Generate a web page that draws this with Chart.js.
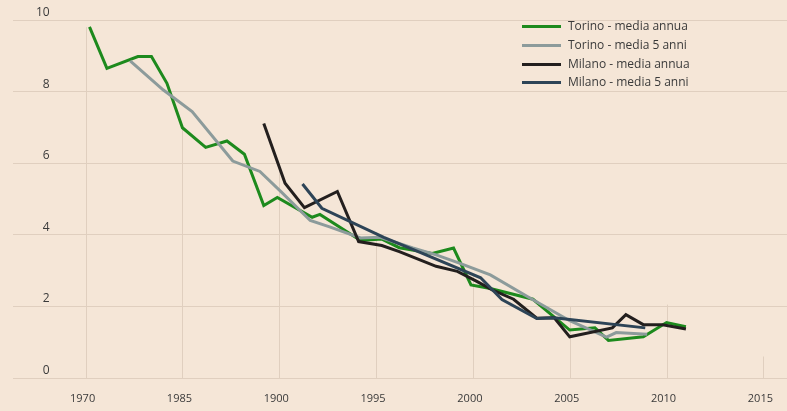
<!DOCTYPE html>
<html><head><meta charset="utf-8">
<script src="https://cdn.jsdelivr.net/npm/chart.js@4.4.1/dist/chart.umd.min.js"></script>
<style>
html,body{margin:0;padding:0;background:#f5e6d7;}
#wrap{width:787px;height:411px;position:relative;background:#f5e6d7;}
canvas{display:block;}
</style></head><body>
<div id="wrap"><canvas id="c" width="787" height="411"></canvas></div>
<script>
// ---- data ----
const tickYears  = [1980, 1985, 1990, 1995, 2000, 2005, 2010, 2015];
const tickLabels = ["1970", "1985", "1900", "1995", "2000", "2005", "2010", "2015"];
const gridTops   = [9.8, 7.0, 6.0, 4.08, 2.86, 2.0, 2.05, 0.6];

const torinoAnnualYears = [1980.2,1981.1,1982.7,1983.4,1984.2,1985.0,1986.2,1987.3,1988.2,1989.2,1989.9,1991.7,1992.1,1994.2,1995.3,1996.2,1997.9,1999.0,1999.9,2000.9,2003.1,2005.0,2006.3,2007.0,2008.8,2010.0,2011.0];
const torinoAnnual      = [9.81,8.65,8.98,8.98,8.23,6.99,6.44,6.62,6.25,4.82,5.04,4.49,4.57,3.84,3.88,3.64,3.48,3.63,2.60,2.50,2.20,1.34,1.40,1.05,1.15,1.55,1.43];

const torino5Years = [1982.3,1984.0,1985.5,1987.6,1989.0,1990.1,1991.6,1992.6,1994.2,1995.2,1996.9,1998.1,1999.3,2000.9,2002.9,2005.0,2006.9,2007.4,2009.0];
const torino5      = [8.86,8.05,7.44,6.06,5.77,5.20,4.40,4.22,3.91,3.93,3.63,3.44,3.21,2.88,2.25,1.60,1.14,1.27,1.22];

const milanoAnnualYears = [1989.2,1990.3,1991.3,1993.0,1994.1,1995.3,1996.2,1998.1,1999.2,2000.2,2001.0,2002.1,2003.3,2004.2,2005.0,2007.2,2007.9,2008.8,2009.8,2011.0];
const milanoAnnual      = [7.11,5.44,4.76,5.21,3.81,3.70,3.53,3.12,2.98,2.70,2.46,2.20,1.67,1.68,1.15,1.40,1.77,1.49,1.49,1.37];

const milano5Years = [1991.2,1992.2,1995.4,1997.3,2000.4,2001.5,2003.3,2004.2,2008.9];
const milano5      = [5.42,4.74,3.93,3.50,2.80,2.19,1.66,1.68,1.40];

const seriesLabels = ["Torino - media annua", "Torino - media 5 anni", "Milano - media annua", "Milano - media 5 anni"];

// ---- styles ----
const GRID = '#e0cfbf';
const TEXT = '#3a3a3a';
const COLORS = ['#1d8a1d', '#8c9b9b', '#231f1e', '#2d4457'];

const pts = (xs, ys) => xs.map((x, i) => ({x: x, y: ys[i]}));

const partialGrid = {
  id: 'partialGrid',
  beforeDatasetsDraw(chart) {
    const {ctx, scales: {x, y}} = chart;
    ctx.save();
    ctx.strokeStyle = GRID;
    ctx.lineWidth = 1;
    tickYears.forEach((yr, i) => {
      const px = Math.round(x.getPixelForValue(yr)) + 0.5;
      ctx.beginPath();
      ctx.moveTo(px, y.getPixelForValue(0));
      ctx.lineTo(px, y.getPixelForValue(gridTops[i]));
      ctx.stroke();
    });
    ctx.restore();
  }
};

const insideLegend = {
  id: 'insideLegend',
  afterDraw(chart) {
    const {ctx} = chart;
    const left = 522, top = 26, row = 18.8, len = 39, gap = 7;
    ctx.save();
    ctx.font = "12px 'Open Sans', sans-serif";
    ctx.textBaseline = 'middle';
    ctx.textAlign = 'left';
    chart.data.datasets.forEach((ds, i) => {
      const yy = Math.round(top + i * row) + 0.5;
      ctx.strokeStyle = ds.borderColor;
      ctx.lineWidth = 3;
      ctx.beginPath();
      ctx.moveTo(left, yy);
      ctx.lineTo(left + len, yy);
      ctx.stroke();
      ctx.fillStyle = TEXT;
      ctx.fillText(ds.label, left + len + gap, yy);
    });
    ctx.restore();
  }
};

Chart.defaults.font.family = "'Open Sans', sans-serif";
Chart.defaults.color = TEXT;

const mk = (i, data, order) => ({
  label: seriesLabels[i], data: data, borderColor: COLORS[i], backgroundColor: COLORS[i],
  borderWidth: 3, pointRadius: 0, pointHoverRadius: 0, tension: 0, fill: false, order: order
});

new Chart(document.getElementById('c'), {
  type: 'line',
  data: {
    datasets: [
      mk(0, pts(torinoAnnualYears, torinoAnnual), 4),
      mk(1, pts(torino5Years, torino5), 3),
      mk(2, pts(milanoAnnualYears, milanoAnnual), 2),
      mk(3, pts(milano5Years, milano5), 1)
    ]
  },
  options: {
    responsive: false,
    animation: false,
    devicePixelRatio: 1,
    layout: {padding: {left: 0, right: 0, top: 20, bottom: 0}},
    plugins: {legend: {display: false}, tooltip: {enabled: false}},
    scales: {
      x: {
        type: 'linear', min: 1976.25, max: 2016.22,
        afterBuildTicks(s) { s.ticks = tickYears.map(v => ({value: v})); },
        afterFit(s) { s.height = 33; s.paddingLeft = 0; s.paddingRight = 0; },
        border: {display: false},
        grid: {display: false, drawTicks: false},
        ticks: {padding: 14, labelOffset: -3, maxRotation: 0, autoSkip: false, color: TEXT, font: {size: 11},
                callback: (v, i) => tickLabels[i]}
      },
      y: {
        min: 0, max: 10,
        afterFit(s) { s.width = 13; s.paddingTop = 0; s.paddingBottom = 0; },
        border: {display: false},
        grid: {color: GRID, drawTicks: false, lineWidth: 1},
        ticks: {stepSize: 2, mirror: true, crossAlign: 'far', padding: 23, labelOffset: -7.5, color: TEXT, font: {size: 12}}
      }
    }
  },
  plugins: [partialGrid, insideLegend]
});
</script>
</body></html>
